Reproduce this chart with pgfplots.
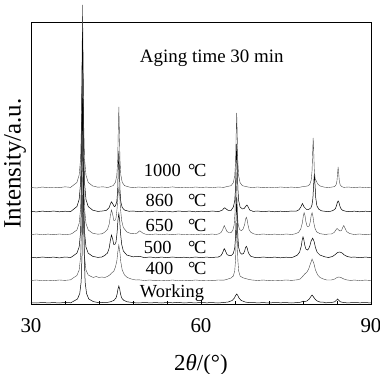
\documentclass[border=0pt]{standalone}
\usepackage{pgfplots}
\pgfplotsset{compat=1.18}
\usepackage{fontspec}
\setmainfont{Liberation Serif}
\newcommand{\degC}{°\kern-0.08em C}
\begin{document}
\begin{tikzpicture}
\begin{axis}[
  scale only axis, width=340bp, height=281bp,
  xmin=30, xmax=90, ymin=0, ymax=281,
  xtick={30,60,90}, minor x tick num=4,
  ytick=\empty,
  xtick pos=lower,
  tick align=inside,
  major tick length=4bp, minor tick length=3bp,
  axis line style={line width=1pt},
  every tick/.style={black, line width=0.8pt},
  clip=false,
  no markers,
  cycle list={{black!72, line width=0.5pt}},
  /pgf/number format/assume math mode=true,
  tick label style={font=\fontsize{21}{21}\selectfont},
  xticklabel style={anchor=base, yshift=-28bp},
  xlabel={2\textit{θ}/(°)},
  ylabel={Intensity/a.u.},
  label style={font=\fontsize{23}{23}\selectfont},
  ylabel style={font=\fontsize{25}{25}\selectfont, at={(axis description cs:-0.047,0.5)}, anchor=center},
  xlabel style={at={(axis description cs:0.5,0)}, anchor=base, yshift=-66bp},
]
% 1000 C
\addplot table[row sep=\\, y expr=\thisrow{y}+116] {x y\\
30 0.5\\31 0\\32 1\\33 0.2\\34 0.8\\35 0.3\\36 1.2\\37 0.6\\37.3 2\\38.1 5.5\\38.5 13\\38.75 29\\38.9 64\\39.0 128\\39.1 183\\39.2 128\\39.3 64\\39.45 29\\39.7 13\\40.1 5.5\\40.9 2\\41.8 0.8\\42.7 1.2\\43.5 0.5\\43.7 0.8\\44.5 2.4\\44.9 5.7\\45.15 13\\45.3 28\\45.4 57\\45.5 81\\45.6 57\\45.7 28\\45.85 13\\46.1 5.7\\46.5 2.4\\47.3 1\\48 0.3\\49 1\\50 0.4\\51 1\\52 0.2\\53 0.9\\54 0.5\\55 1.1\\56 0.3\\57 0.8\\58 0.2\\59 1\\60 0.5\\61 0.9\\62 0.2\\63 1\\64 0.6\\64.5 1.3\\65.3 2.3\\65.7 5.3\\65.95 12\\66.1 26\\66.2 52\\66.3 75\\66.4 52\\66.5 26\\66.65 12\\66.9 5.3\\67.3 2.3\\68.1 1.2\\69 0.4\\70 1\\71 0.3\\72 0.8\\73 0.2\\74 1\\75 0.5\\76 0.9\\77 0.3\\77.8 1.2\\78.8 2\\79.2 3.5\\79.45 8\\79.6 17.5\\79.7 35\\79.8 50\\79.9 35\\80.0 17.5\\80.15 9\\80.35 7\\80.6 4\\81.0 2\\81.8 0.8\\82.5 0.5\\83.2 1\\83.6 1.5\\83.85 3.4\\84.0 7.4\\84.1 14.7\\84.2 21\\84.3 14.7\\84.4 7.4\\84.55 3.4\\84.8 1.5\\85.2 0.6\\86 1\\87 0.3\\88 0.9\\89 0.4\\90 0.8\\
};
% 860 C
\addplot table[row sep=\\, y expr=\thisrow{y}+92] {x y\\
30 0.6\\31 0.1\\32 0.9\\33 0.3\\34 1\\35 0.2\\36 0.8\\37 0.4\\37.3 1.8\\38.1 5.4\\38.5 12.6\\38.75 29\\38.9 63\\39.0 126\\39.1 180\\39.2 126\\39.3 63\\39.45 29\\39.7 12.6\\40.1 5.4\\40.9 1.8\\41.8 0.6\\42.6 1\\43.3 1.6\\43.8 4.5\\44.0 7.8\\44.2 10.2\\44.4 8.4\\44.7 5.4\\44.9 6\\45.15 10.8\\45.3 22\\45.4 43\\45.5 61\\45.6 43\\45.7 22\\45.85 10\\46.1 4.5\\46.5 1.9\\47.3 0.7\\48 1\\49 0.3\\50 0.9\\51 0.2\\52 1\\53 0.4\\54 0.8\\55 0.1\\56 1\\57 0.5\\58 0.9\\59 0.2\\60 0.8\\61 0.3\\62 1\\63 0.4\\63.2 0.6\\63.8 2\\64.0 3.5\\64.2 4.2\\64.4 3.2\\64.8 1.6\\65.3 1.5\\65.7 4.9\\65.95 11\\66.1 24\\66.2 48\\66.3 68\\66.4 48\\66.5 24\\66.65 11.2\\66.9 5\\67.3 3.1\\67.6 3.4\\67.9 5.7\\68.1 7\\68.3 5.3\\68.6 2\\69.2 0.6\\70 1\\71 0.3\\72 0.9\\73 0.2\\74 0.8\\75 0.4\\76 1\\76.8 0.8\\77.3 2.3\\77.6 4.8\\77.9 8.5\\78.2 5\\78.6 2.7\\79.0 2.5\\79.4 4.2\\79.6 7.4\\79.75 14\\79.87 26.6\\80.0 38\\80.13 26.6\\80.25 14\\80.45 6.1\\80.8 2.7\\81.3 1.1\\82.3 0.4\\82.8 0.6\\83.3 1.5\\83.7 3.3\\83.9 6\\84.05 9.4\\84.2 11\\84.35 9.4\\84.5 6\\84.7 3.3\\85.0 1.6\\85.6 0.7\\86.5 0.3\\87 0.9\\88 0.2\\89 0.8\\90 0.4\\
};
% 650 C
\addplot table[row sep=\\, y expr=\thisrow{y}+69] {x y\\
30 0.4\\31 1\\32 0.2\\33 0.9\\34 0.3\\35 1\\36 0.4\\37 0.9\\37.3 1.7\\38.1 5\\38.5 11.6\\38.75 26.4\\38.9 58\\39.0 115\\39.1 165\\39.2 115\\39.3 58\\39.45 26.4\\39.7 11.6\\40.1 5\\40.9 1.7\\41.8 0.8\\42.5 1.2\\43.0 2.7\\43.5 5.6\\43.8 10.8\\44.0 19\\44.2 25\\44.4 21\\44.6 14.7\\44.8 14.5\\45.0 16.8\\45.2 27\\45.35 40\\45.5 46.6\\45.65 39.6\\45.8 25.8\\46.0 14.3\\46.3 7.4\\46.9 3.1\\47.6 1.5\\48.4 1.2\\48.8 2.2\\49.0 3.4\\49.2 4.2\\49.4 3.4\\49.7 2\\50.2 0.8\\51 0.3\\52 1\\53 0.2\\54 0.9\\55 0.3\\56 1\\57 0.4\\58 0.8\\59 0.2\\60 0.9\\61 0.4\\62 1\\62.5 0.5\\63.0 0.9\\63.5 2.3\\63.8 5\\64.0 8\\64.1 9.4\\64.3 7\\64.6 3.4\\65.0 2.2\\65.3 2.4\\65.6 4.5\\65.85 10\\66.0 22\\66.1 44\\66.2 62.5\\66.3 44\\66.4 22.5\\66.55 11\\66.8 5.5\\67.1 4.4\\67.4 5.7\\67.7 10.4\\67.85 15.4\\68.0 17.8\\68.15 15.1\\68.3 9.9\\68.5 5.1\\68.8 2.6\\69.4 1\\70 0.4\\71 1\\72 0.3\\73 0.9\\74 0.2\\75 1\\76 0.5\\76.5 1\\77.2 2.5\\77.6 5.9\\77.9 12.5\\78.05 18.9\\78.2 22.3\\78.35 19.5\\78.5 13.7\\78.7 9\\78.9 8.4\\79.1 9\\79.3 13.7\\79.45 19.7\\79.6 22.3\\79.75 18.9\\79.9 12.5\\80.1 7\\80.4 3.2\\81.0 1.3\\82.0 0.5\\82.5 1\\83.0 1\\83.5 2.5\\83.8 5\\84.0 6.5\\84.2 5.5\\84.5 4\\84.8 4.5\\85.0 7.5\\85.2 9.5\\85.4 7\\85.7 3.5\\86.2 1.5\\87 0.5\\88 1\\89 0.3\\90 0.9\\
};
% 500 C
\addplot table[row sep=\\, y expr=\thisrow{y}+46] {x y\\
30 0.8\\31 0.2\\32 1\\33 0.4\\34 0.9\\35 0.1\\36 1\\37 0.5\\37.3 1.6\\38.1 4.8\\38.5 11\\38.75 26\\38.9 56\\39.0 112\\39.1 160\\39.2 112\\39.3 56\\39.45 26\\39.7 11\\40.1 4.8\\40.9 1.6\\41.8 0.6\\42.5 1\\43.0 2.5\\43.5 5\\43.8 10\\44.0 17.4\\44.2 23\\44.4 19.3\\44.6 13.6\\44.8 13.6\\45.0 16\\45.2 25.8\\45.35 38.3\\45.5 44.5\\45.65 37.7\\45.8 24.6\\46.0 13.8\\46.3 7\\46.9 3\\48 1.2\\49.2 1.6\\50 0.4\\51 1\\52 0.2\\53 0.9\\54 0.4\\55 1\\56 0.3\\57 0.8\\58 0.2\\59 1\\60 0.4\\61 0.9\\62 0.3\\62.5 0.8\\63.0 0.9\\63.5 2.2\\63.8 5\\64.0 8\\64.1 9.4\\64.3 7.3\\64.6 3.4\\65.0 2.4\\65.4 2.7\\65.7 4.6\\65.95 9.9\\66.1 21\\66.2 42\\66.3 60.5\\66.4 42.5\\66.5 21.5\\66.65 10.4\\66.9 5.3\\67.2 3.8\\67.5 4.5\\67.7 6.9\\67.85 10.2\\68.0 11.7\\68.15 10\\68.3 6.5\\68.5 3.7\\68.8 1.7\\69.4 0.7\\70 0.3\\71 1\\72 0.3\\73 0.9\\74 0.2\\75 0.8\\76 0.4\\76.5 1.5\\77.0 2.9\\77.4 5.9\\77.7 12\\77.85 17.8\\78.0 21\\78.15 18.4\\78.3 13.2\\78.5 9.1\\78.8 8\\79.0 9.3\\79.2 12\\79.45 17.3\\79.7 19.8\\79.95 16.8\\80.2 10.5\\80.5 5.7\\81.0 2.9\\81.9 1.1\\82.5 0.5\\83.2 1.5\\83.7 3.5\\84.1 5.5\\84.5 6\\84.9 5\\85.3 3\\85.8 1.5\\86.5 0.7\\87 1\\88 0.3\\89 0.9\\90 0.4\\
};
% 400 C
\addplot table[row sep=\\, y expr=\thisrow{y}+23] {x y\\
30 0.5\\31 1\\32 0.2\\33 0.8\\34 0.4\\35 1\\36 0.6\\37 1.2\\37.3 2.5\\38.1 5.5\\38.5 11\\38.75 24\\38.9 53\\39.0 105\\39.1 150\\39.2 105\\39.3 53\\39.45 24\\39.7 11\\40.1 6\\40.6 4.5\\41.0 3.5\\41.5 4.5\\42.0 3.5\\42.5 4\\43.0 3.5\\43.5 4.5\\44.0 6.5\\44.3 8.5\\44.6 9.5\\44.9 14\\45.15 20\\45.3 28\\45.5 36\\45.7 28\\45.85 19\\46.1 11\\46.5 6\\47.0 3.5\\47.7 2\\48.5 1\\49 1.2\\50 0.5\\51 1\\52 0.3\\53 0.8\\54 0.4\\55 1\\56 0.2\\57 0.8\\58 0.3\\59 1\\60 0.5\\61 0.8\\62 0.3\\63 1\\64 0.8\\64.5 1.5\\65.3 3\\65.7 5\\65.95 10\\66.1 21\\66.2 41\\66.3 58\\66.4 41\\66.5 21\\66.65 10\\66.9 5\\67.3 3.5\\67.8 2.5\\68.5 1.5\\69 1\\70 0.5\\71 1\\72 0.3\\73 0.8\\74 0.5\\75 1\\76 0.6\\77 1.2\\77.5 2\\78.0 5\\78.3 7\\78.7 9\\79.0 12\\79.3 17\\79.6 22\\79.9 18\\80.2 11\\80.6 6\\81.0 3.5\\81.6 2\\82.2 1\\83 1\\83.6 2\\84.0 3.5\\84.3 4\\84.7 3.5\\85.2 2\\85.8 1\\86.5 0.5\\87 1\\88 0.4\\89 0.9\\90 0.5\\
};
% Working
\addplot table[row sep=\\, y expr=\thisrow{y}+1] {x y\\
30 0.3\\31 0\\32 0.5\\33 0.1\\34 0.4\\35 0\\36 0.6\\37 0.2\\37.4 1.4\\38.2 4\\38.6 9.5\\38.85 21\\39.0 47\\39.1 95\\39.2 135\\39.3 95\\39.4 47\\39.55 21\\39.8 9.5\\40.2 4\\41.0 1.4\\42 0.3\\43 0.6\\43.5 0.6\\44.0 1.2\\44.6 2.5\\45.0 5\\45.2 9\\45.35 14\\45.5 17\\45.65 14\\45.8 9\\46.0 5\\46.4 2.5\\47.0 1.2\\48 0.4\\49 0\\50 0.5\\51 0.1\\52 0.4\\53 0\\54 0.5\\55 0.2\\56 0.6\\57 0\\58 0.4\\59 0.1\\60 0.5\\61 0.2\\62 0.4\\63 0\\64 0.5\\64.8 1\\65.5 2.5\\65.9 5\\66.1 7.5\\66.3 9\\66.5 7.5\\66.7 5\\67.1 2.5\\67.8 1\\68.5 0.3\\69 0.5\\70 0.1\\71 0.4\\72 0\\73 0.5\\74 0.2\\75 0.4\\76 0\\77 0.5\\77.6 0.8\\78.0 1.8\\78.3 1.5\\78.7 2\\79.1 4\\79.4 6.5\\79.6 8\\79.8 6.5\\80.1 4\\80.5 2\\81.0 1\\81.6 0.8\\82 0.2\\83 0.5\\83.6 1.2\\83.9 2.8\\84.1 4\\84.3 2.8\\84.6 1.2\\85.2 0.4\\86 0.1\\87 0.5\\88 0.2\\89 0.4\\90 0.1\\
};
\begin{scope}[every node/.style={font=\fontsize{18.5}{18.5}\selectfont, inner sep=0pt}]
\node[anchor=base west] at (axis cs:49.2,241) {\fontsize{19}{19}\selectfont Aging time 30 min};
\node[anchor=base west] at (axis cs:49.9,127) {1000};
\node[anchor=base west] at (axis cs:57.7,127) {\degC};
\node[anchor=base west] at (axis cs:50.2,97) {860};
\node[anchor=base west] at (axis cs:57.7,97) {\degC};
\node[anchor=base west] at (axis cs:50.2,73) {650};
\node[anchor=base west] at (axis cs:57.7,73) {\degC};
\node[anchor=base west] at (axis cs:49.9,51) {500};
\node[anchor=base west] at (axis cs:57.7,51) {\degC};
\node[anchor=base west] at (axis cs:50.2,30) {400};
\node[anchor=base west] at (axis cs:57.7,30) {\degC};
\node[anchor=base west] at (axis cs:49.2,7) {Working};
\end{scope}
\coordinate (bl) at (rel axis cs:0,0);
\coordinate (tr) at (rel axis cs:1,1);
\end{axis}
\pgfresetboundingbox
\path[use as bounding box] ([xshift=-31bp,yshift=-70bp]bl) rectangle ([xshift=9bp,yshift=23bp]tr);
\end{tikzpicture}
\end{document}
